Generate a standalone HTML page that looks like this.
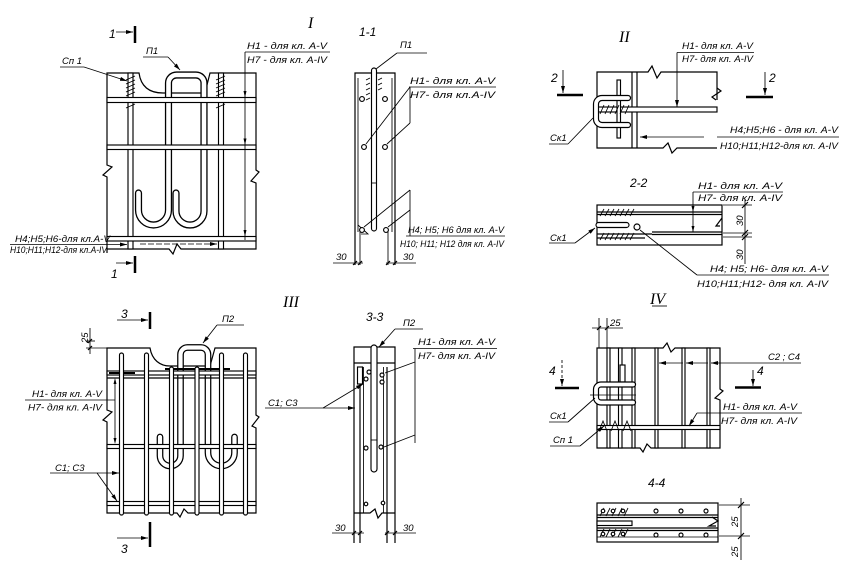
<!DOCTYPE html>
<html><head><meta charset="utf-8"><style>
html,body{margin:0;padding:0;background:#fff}
svg{display:block}
.k{stroke:#000;fill:none;stroke-width:1.2}
.h{stroke:#000;fill:none;stroke-width:.85}
.w{stroke:#000;fill:#fff;stroke-width:1.15}
.f{fill:#000;stroke:none}
text{font-family:"Liberation Sans",sans-serif;font-style:italic;font-size:9.5px;fill:#000}
.r{font-family:"Liberation Serif",serif;font-size:16px}
.s{font-size:12px}
</style></head><body>
<svg width="846" height="566" viewBox="0 0 846 566" xmlns="http://www.w3.org/2000/svg">
<defs>
<marker id="a" markerUnits="userSpaceOnUse" markerWidth="7" markerHeight="4" refX="7" refY="2" orient="auto"><path d="M0,0L7,2L0,4z"/></marker>
<path id="hp1" d="M138.5,193 V210 A15,15 0 0 0 168.5,210 V83 A8,8 0 0 1 176.5,75 H196 A8,8 0 0 1 204,83 V211 A14,14 0 0 1 176,211 V193"/>
<path id="hp2" d="M160,437 V455.75 A10.25,10.25 0 0 0 180.5,455.75 V354.5 A7,7 0 0 1 187.5,347.5 H201 A7,7 0 0 1 208,354.5 V452.75 A13.25,13.25 0 0 0 234.5,452.75 V437"/>
<path id="ck2" d="M628,98 H602 A6,6 0 0 0 596,104 V119 A6,6 0 0 0 602,125 H628"/>
<path id="ck4" d="M633,384.5 H601 A5,5 0 0 0 596,389.5 V397.5 A5,5 0 0 0 601,402.5 H633"/>
</defs>

<!-- ================= PANEL I ================= -->
<text class="r" x="308" y="28">I</text>
<text class="s" x="109" y="38">1</text>
<line class="h" x1="116" y1="32" x2="133" y2="32" marker-end="url(#a)"/>
<line x1="135" y1="26" x2="135" y2="43" stroke="#000" stroke-width="2.5"/>
<line class="h" x1="116" y1="263" x2="133" y2="263" marker-end="url(#a)"/>
<line x1="135" y1="256" x2="135" y2="273" stroke="#000" stroke-width="2.5"/>
<text class="s" x="111" y="278">1</text>

<text x="62" y="64">Сп 1</text>
<line class="h" x1="60" y1="67" x2="84" y2="67"/>
<line class="h" x1="84" y1="67" x2="127" y2="81" marker-end="url(#a)"/>
<text x="146" y="54">П1</text>
<line class="h" x1="143" y1="57" x2="168" y2="57"/>
<line class="h" x1="168" y1="57" x2="180" y2="70" marker-end="url(#a)"/>

<path class="k" d="M107,253 V177 L103,175 L112,167 L107,165 V73 H139 C141,87 150,93 163,93 H205 L210,73 H256 V170 L259,172 L251,181 L256,183 V249 H181 L177,244 L173,254 L169,249 H107"/>
<rect class="w" x="128" y="73" width="5" height="176"/>
<rect class="w" x="218.5" y="73" width="5" height="176"/>
<path class="h" d="M126,80 L135,76 M126,84 L135,80 M126,88 L135,84 M126,92 L135,88 M126,96 L135,92 M126,108 L135,104 M216,80 L225,76 M216,84 L225,80 M216,88 L225,84 M216,92 L225,88 M216,96 L225,92 M216,108 L225,104"/>
<use href="#hp1" stroke="#000" stroke-width="7.2" fill="none" stroke-linecap="round"/>
<use href="#hp1" stroke="#fff" stroke-width="4.6" fill="none" stroke-linecap="round"/>
<rect class="w" x="107" y="97.5" width="149" height="5"/>
<rect class="w" x="107" y="145" width="149" height="4.5"/>
<rect class="w" x="107" y="236.5" width="149" height="4.5"/>
<line class="h" x1="245" y1="52" x2="245" y2="240"/>
<path class="f" d="M243.5,91 L245,97.5 L246.5,91z M243.5,138.5 L245,145 L246.5,138.5z M243.5,230 L245,236.5 L246.5,230z"/>
<line class="h" x1="245" y1="52" x2="330" y2="52"/>
<text x="247" y="49" textLength="80" lengthAdjust="spacingAndGlyphs">Н1 - для кл. А-V</text>
<text x="247" y="63" textLength="80" lengthAdjust="spacingAndGlyphs">Н7 - для кл. А-IV</text>
<text x="15" y="242" textLength="95" lengthAdjust="spacingAndGlyphs">Н4;Н5;Н6-для кл.А-V</text>
<text x="10" y="253" textLength="97" lengthAdjust="spacingAndGlyphs">Н10;Н11;Н12-для кл.А-IV</text>
<line class="h" x1="10" y1="244.5" x2="127" y2="244.5" marker-end="url(#a)"/>
<line class="h" x1="140" y1="244" x2="217" y2="244" marker-end="url(#a)" stroke-dasharray="6,2"/>

<!-- ================= SECTION 1-1 ================= -->
<text class="s" x="359" y="36">1-1</text>
<text x="400" y="48">П1</text>
<line class="h" x1="397" y1="53" x2="427" y2="53"/>
<line class="h" x1="397" y1="53" x2="376" y2="69"/>
<path class="k" d="M355,265 V73 H395 V265"/>
<line class="h" x1="358" y1="78" x2="358" y2="232"/>
<line class="h" x1="392" y1="78" x2="392" y2="232"/>
<line class="h" x1="360" y1="230" x2="360" y2="265"/>
<line class="h" x1="388" y1="230" x2="388" y2="265"/>
<path class="h" d="M358,225 L368,234 L361,234"/>
<rect class="w" x="371.5" y="68" width="5" height="163" rx="2.5"/>
<line class="h" x1="371.5" y1="183" x2="376.5" y2="183"/>
<path class="h" d="M366,80 L370,78 M366,85 L370,83 M366,90 L370,88 M366,95 L370,93 M366,100 L370,98 M378,80 L382,78 M378,85 L382,83 M378,90 L382,88"/>
<circle class="w" cx="362" cy="99" r="2.4"/>
<circle class="w" cx="385" cy="99" r="2.4"/>
<circle class="w" cx="364" cy="147" r="2.4"/>
<circle class="w" cx="385" cy="147" r="2.4"/>
<circle class="w" cx="362" cy="230" r="2.4"/>
<circle class="w" cx="386" cy="230" r="2.4"/>
<text x="410" y="84" textLength="85" lengthAdjust="spacingAndGlyphs">Н1- для кл. А-V</text>
<line class="h" x1="409" y1="87" x2="496" y2="87"/>
<text x="410" y="98" textLength="85" lengthAdjust="spacingAndGlyphs">Н7- для кл.А-IV</text>
<line class="h" x1="410" y1="87" x2="410" y2="123"/>
<line class="h" x1="410" y1="87" x2="366" y2="144"/>
<line class="h" x1="410" y1="123" x2="387" y2="144"/>
<line class="h" x1="410" y1="190" x2="410" y2="236"/>
<line class="h" x1="410" y1="190" x2="364" y2="227"/>
<line class="h" x1="410" y1="210" x2="388" y2="227"/>
<text x="408" y="233" textLength="96" lengthAdjust="spacingAndGlyphs">Н4; Н5; Н6 для кл. А-V</text>
<line class="h" x1="406" y1="236" x2="505" y2="236"/>
<text x="400" y="247" textLength="104" lengthAdjust="spacingAndGlyphs">Н10; Н11; Н12 для кл. А-IV</text>
<text x="336" y="260">30</text>
<line class="h" x1="333" y1="263" x2="363" y2="263"/>
<path class="k" d="M353,265 L357,261 M358,265 L362,261 M386,265 L390,261 M393,265 L397,261"/>
<text x="403" y="260">30</text>
<line class="h" x1="386" y1="263" x2="416" y2="263"/>

<!-- ================= PANEL II ================= -->
<text class="r" x="619" y="42">II</text>
<text class="s" x="551" y="82">2</text>
<line class="h" x1="563" y1="70" x2="563" y2="93" marker-end="url(#a)"/>
<line x1="557" y1="95" x2="583" y2="95" stroke="#000" stroke-width="2.5"/>
<text class="s" x="769" y="82">2</text>
<line class="h" x1="765" y1="72" x2="765" y2="95" marker-end="url(#a)"/>
<line x1="746" y1="97" x2="773" y2="97" stroke="#000" stroke-width="2.5"/>
<text x="682" y="49" textLength="71" lengthAdjust="spacingAndGlyphs">Н1- для кл. А-V</text>
<line class="h" x1="677" y1="52.5" x2="754" y2="52.5"/>
<text x="682" y="62" textLength="71" lengthAdjust="spacingAndGlyphs">Н7- для кл. А-IV</text>
<line class="h" x1="677" y1="52.5" x2="677" y2="107" marker-end="url(#a)"/>
<path class="k" d="M717,100 V72 H661 L657,78 L652,66 L648,72 H597 V148 H663 L668,143 L672,153 L677,148 H717"/>
<path class="k" d="M717,88 L721,91 L712,97 L716,100"/>
<line class="k" x1="632" y1="72" x2="632" y2="148"/>
<line class="k" x1="637" y1="72" x2="637" y2="148"/>
<rect class="w" x="597" y="107" width="120" height="5"/>
<rect class="w" x="617" y="80" width="3.5" height="58"/>
<use href="#ck2" stroke="#000" stroke-width="6.2" fill="none" stroke-linecap="round"/>
<use href="#ck2" stroke="#fff" stroke-width="3.8" fill="none" stroke-linecap="round"/>
<path class="h" d="M600,114 L604,105 M605,114 L609,105 M610,114 L614,105 M615,114 L619,105 M620,114 L624,105 M625,114 L629,105"/>
<text x="550" y="141">Ск1</text>
<line class="h" x1="549" y1="144" x2="568" y2="144"/>
<line class="h" x1="568" y1="144" x2="593" y2="118"/>
<line class="h" x1="704" y1="137" x2="640" y2="137" marker-end="url(#a)"/>
<line class="h" x1="717" y1="137" x2="839" y2="137"/>
<text x="730" y="133" textLength="108" lengthAdjust="spacingAndGlyphs">Н4;Н5;Н6 - для кл. А-V</text>
<text x="720" y="149" textLength="118" lengthAdjust="spacingAndGlyphs">Н10;Н11;Н12-для кл. А-IV</text>

<!-- ================= SECTION 2-2 ================= -->
<text class="s" x="630" y="187">2-2</text>
<text x="698" y="189" textLength="84" lengthAdjust="spacingAndGlyphs">Н1- для кл. А-V</text>
<line class="h" x1="693" y1="192" x2="783" y2="192"/>
<text x="698" y="201" textLength="84" lengthAdjust="spacingAndGlyphs">Н7- для кл. А-IV</text>
<line class="h" x1="693" y1="192" x2="693" y2="232"/>
<path class="f" d="M691.5,206 L693,212 L694.5,206z M691.5,226 L693,232 L694.5,226z"/>
<rect class="k" x="597" y="205" width="125" height="40"/>
<line class="k" x1="597" y1="212" x2="722" y2="212"/>
<line class="k" x1="597" y1="214.5" x2="722" y2="214.5"/>
<line class="k" x1="652" y1="232" x2="722" y2="232"/>
<line class="k" x1="652" y1="234.5" x2="722" y2="234.5"/>
<line class="k" x1="597" y1="234" x2="652" y2="234"/>
<line class="k" x1="597" y1="238" x2="645" y2="238"/>
<path class="k" d="M722,218 L716,226 L720,226"/>
<path class="h" d="M600,216 L604,209 M605,216 L609,209 M610,216 L614,209 M615,216 L619,209 M620,216 L624,209 M625,216 L629,209 M630,216 L634,209 M600,240 L604,233 M605,240 L609,233 M610,240 L614,233 M615,240 L619,233 M620,240 L624,233 M625,240 L629,233 M630,240 L634,233"/>
<rect class="w" x="596" y="222.5" width="33" height="5" rx="2.5"/>
<circle class="w" cx="637" cy="227" r="3"/>
<text x="550" y="241">Ск1</text>
<line class="h" x1="549" y1="243" x2="575" y2="243"/>
<line class="h" x1="575" y1="243" x2="595" y2="228" marker-end="url(#a)"/>
<line class="h" x1="697" y1="275" x2="640" y2="230"/>
<line class="h" x1="697" y1="275" x2="829" y2="275"/>
<text x="710" y="272" textLength="118" lengthAdjust="spacingAndGlyphs">Н4; Н5; Н6- для кл. А-V</text>
<text x="697" y="287" textLength="131" lengthAdjust="spacingAndGlyphs">Н10;Н11;Н12- для кл. А-IV</text>
<line class="h" x1="723" y1="205" x2="752" y2="205"/>
<line class="h" x1="723" y1="233" x2="752" y2="233"/>
<line class="h" x1="723" y1="237" x2="752" y2="237"/>
<line class="h" x1="745" y1="199" x2="745" y2="264"/>
<path class="k" d="M742,208 L748,202 M742,236 L748,230 M742,240 L748,234"/>
<text transform="translate(743,226) rotate(-90)">30</text>
<text transform="translate(743,260) rotate(-90)">30</text>

<!-- ================= PANEL III ================= -->
<text class="r" x="283" y="307">III</text>
<text class="s" x="121" y="318">3</text>
<line class="h" x1="117" y1="320" x2="148" y2="320" marker-end="url(#a)"/>
<line x1="150" y1="312" x2="150" y2="329" stroke="#000" stroke-width="2.5"/>
<text x="222" y="322">П2</text>
<line class="h" x1="217" y1="325" x2="244" y2="325"/>
<line class="h" x1="217" y1="325" x2="203" y2="343" marker-end="url(#a)"/>
<text transform="translate(88,343) rotate(-90)">25</text>
<line class="h" x1="90" y1="328" x2="90" y2="354"/>
<line class="h" x1="86" y1="348" x2="107" y2="348"/>
<line class="h" x1="86" y1="341" x2="95" y2="341"/>
<path class="k" d="M88,350 L92,346 M88,343 L92,339"/>
<path class="k" d="M107,513 V422 L103,420 L112,412 L107,410 V348 H150 C152,360 160,366 170,366 H210 L215,348 H256 V415 L259,417 L252,426 L256,428 V513 H188 L184,509 L180,517 L177,513 Z"/>
<use href="#hp2" stroke="#000" stroke-width="6.7" fill="none" stroke-linecap="round"/>
<use href="#hp2" stroke="#fff" stroke-width="4.2" fill="none" stroke-linecap="round"/>
<rect class="w" x="107" y="371" width="149" height="4"/>
<line class="k" x1="107" y1="378" x2="256" y2="378"/>
<line x1="165" y1="369" x2="230" y2="369" stroke="#000" stroke-width="2"/>
<line x1="109" y1="373" x2="135" y2="373" stroke="#000" stroke-width="2"/>
<rect class="w" x="107" y="444.5" width="149" height="4"/>
<rect class="w" x="107" y="501.5" width="149" height="4"/>
<rect class="w" x="119.5" y="353" width="4" height="162" rx="2"/>
<rect class="w" x="144.5" y="353" width="4" height="162" rx="2"/>
<rect class="w" x="169.5" y="367" width="4" height="148" rx="2"/>
<rect class="w" x="195" y="367" width="4" height="148" rx="2"/>
<rect class="w" x="219.5" y="353" width="4" height="162" rx="2"/>
<rect class="w" x="243.5" y="353" width="4" height="162" rx="2"/>
<line class="h" x1="115" y1="384" x2="115" y2="438"/>
<path class="f" d="M113.5,384 L115,378 L116.5,384z M113.5,438 L115,444 L116.5,438z"/>
<text x="32" y="397" textLength="70" lengthAdjust="spacingAndGlyphs">Н1- для кл. А-V</text>
<line class="h" x1="25" y1="400" x2="115" y2="400"/>
<text x="28" y="410.5" textLength="74" lengthAdjust="spacingAndGlyphs">Н7- для кл. А-IV</text>
<text x="55" y="471">С1; С3</text>
<line class="h" x1="50" y1="473" x2="119" y2="473" marker-end="url(#a)"/>
<line class="h" x1="97" y1="473" x2="117" y2="501" marker-end="url(#a)"/>
<line class="h" x1="117" y1="538" x2="148" y2="538" marker-end="url(#a)"/>
<line x1="150" y1="522" x2="150" y2="547" stroke="#000" stroke-width="2.5"/>
<text class="s" x="121" y="553">3</text>

<!-- ================= SECTION 3-3 ================= -->
<text class="s" x="366" y="321">3-3</text>
<text x="403" y="326">П2</text>
<line class="h" x1="395" y1="329" x2="423" y2="329"/>
<line class="h" x1="395" y1="329" x2="379" y2="347" marker-end="url(#a)"/>
<path class="k" d="M354,543 V347 H395 V543"/>
<line class="k" x1="354" y1="363" x2="395" y2="363"/>
<line class="k" x1="360" y1="367" x2="360" y2="543"/>
<line class="h" x1="363.5" y1="367" x2="363.5" y2="513"/>
<line class="h" x1="383.5" y1="367" x2="383.5" y2="513"/>
<line class="k" x1="387" y1="367" x2="387" y2="543"/>
<path class="k" d="M354,513 H370 L375,509 L378,518 L382,513 H395"/>
<rect class="w" x="371" y="345" width="6" height="127" rx="3"/>
<line class="h" x1="371" y1="440" x2="377" y2="440"/>
<rect class="w" x="357.5" y="367" width="5" height="17"/>
<circle class="w" cx="369" cy="372" r="2"/>
<circle class="w" cx="366" cy="379" r="2"/>
<circle class="w" cx="382" cy="375" r="2"/>
<circle class="w" cx="382" cy="382" r="2"/>
<circle class="w" cx="366" cy="448" r="2"/>
<circle class="w" cx="381" cy="447" r="2"/>
<circle class="w" cx="366" cy="504" r="1.8"/>
<circle class="w" cx="383" cy="503" r="1.8"/>
<text x="418" y="345" textLength="77" lengthAdjust="spacingAndGlyphs">Н1- для кл. А-V</text>
<line class="h" x1="413" y1="348.5" x2="497" y2="348.5"/>
<text x="418" y="359" textLength="77" lengthAdjust="spacingAndGlyphs">Н7- для кл. А-IV</text>
<line class="h" x1="415" y1="348.5" x2="415" y2="443"/>
<line class="h" x1="415" y1="362" x2="385" y2="373"/>
<line class="h" x1="415" y1="435" x2="384" y2="447"/>
<text x="268" y="406">С1; С3</text>
<line class="h" x1="265" y1="408" x2="355" y2="408" marker-end="url(#a)"/>
<line class="h" x1="323" y1="408" x2="363" y2="384" marker-end="url(#a)"/>
<text x="335" y="531">30</text>
<line class="h" x1="332" y1="533" x2="364" y2="533"/>
<text x="403" y="531">30</text>
<line class="h" x1="385" y1="533" x2="416" y2="533"/>
<path class="k" d="M352,535 L356,531 M358,535 L362,531 M385,535 L389,531 M393,535 L397,531"/>

<!-- ================= PANEL IV ================= -->
<text class="r" x="650" y="304">IV</text>
<line class="h" x1="652" y1="306" x2="667" y2="306"/>
<text x="610" y="326">25</text>
<line class="h" x1="592" y1="328" x2="623" y2="328"/>
<line class="h" x1="599" y1="318" x2="599" y2="348"/>
<line class="h" x1="607" y1="318" x2="607" y2="348"/>
<path class="k" d="M597,330 L601,326 M605,330 L609,326"/>
<path class="k" d="M597,448 V348 H663 L667,343 L671,352 L675,348 H720 V389 L723,391 L715,398 L720,400 V448 H651 L647,444 L643,452 L640,448 Z"/>
<rect class="w" x="607" y="348" width="3" height="100"/>
<rect class="w" x="618.5" y="348" width="3.5" height="100"/>
<rect class="w" x="632" y="348" width="3" height="100"/>
<rect class="w" x="655" y="348" width="3" height="100"/>
<rect class="w" x="682" y="348" width="3" height="100"/>
<rect class="w" x="707" y="348" width="3" height="100"/>
<rect class="w" x="597" y="425.5" width="123" height="4"/>
<rect class="w" x="620" y="365" width="5" height="17"/>
<use href="#ck4" stroke="#000" stroke-width="6.2" fill="none" stroke-linecap="round"/>
<use href="#ck4" stroke="#fff" stroke-width="3.8" fill="none" stroke-linecap="round"/>
<line class="h" x1="590" y1="395" x2="636" y2="395"/>
<path class="h" d="M599,431 L603,421 L607,431 M611,431 L615,421 L619,431 M623,431 L627,421 L631,431"/>
<text class="s" x="549" y="375">4</text>
<line class="h" x1="562" y1="360" x2="562" y2="386" marker-end="url(#a)" stroke-dasharray="3,2"/>
<line x1="555" y1="388" x2="579" y2="388" stroke="#000" stroke-width="2.5"/>
<text class="s" x="757" y="375">4</text>
<line class="h" x1="753" y1="370" x2="753" y2="386" marker-end="url(#a)"/>
<line x1="735" y1="387.5" x2="761" y2="387.5" stroke="#000" stroke-width="2.5"/>
<text x="768" y="360" textLength="32" lengthAdjust="spacingAndGlyphs">С2 ; С4</text>
<line class="h" x1="718" y1="363" x2="801" y2="363"/>
<line class="h" x1="718" y1="363" x2="711" y2="363" marker-end="url(#a)"/>
<line class="h" x1="708" y1="363" x2="686" y2="363" marker-end="url(#a)"/>
<line class="h" x1="683" y1="363" x2="659" y2="363" marker-end="url(#a)"/>
<text x="723" y="410" textLength="74" lengthAdjust="spacingAndGlyphs">Н1- для кл. А-V</text>
<line class="h" x1="697" y1="413" x2="802" y2="413"/>
<text x="721" y="424" textLength="76" lengthAdjust="spacingAndGlyphs">Н7- для кл. А-IV</text>
<line class="h" x1="697" y1="413" x2="689" y2="426" marker-end="url(#a)"/>
<text x="550" y="419">Ск1</text>
<line class="h" x1="549" y1="422" x2="568" y2="422"/>
<line class="h" x1="568" y1="422" x2="595" y2="398"/>
<text x="553" y="443">Сп 1</text>
<line class="h" x1="550" y1="446" x2="580" y2="446"/>
<line class="h" x1="580" y1="446" x2="604" y2="426" marker-end="url(#a)"/>

<!-- ================= SECTION 4-4 ================= -->
<text class="s" x="648" y="487">4-4</text>
<rect class="k" x="597" y="503" width="121" height="39"/>
<line class="k" x1="597" y1="515" x2="718" y2="515"/>
<line class="k" x1="597" y1="517.5" x2="718" y2="517.5"/>
<line class="k" x1="597" y1="528" x2="718" y2="528"/>
<line class="k" x1="597" y1="530.5" x2="718" y2="530.5"/>
<line class="h" x1="597" y1="537" x2="718" y2="537"/>
<rect class="w" x="597" y="521" width="35" height="4.5"/>
<path class="k" d="M712,517 L718,521 L709,526 L716,526"/>
<path class="h" d="M600,516 L604,508 M606,516 L610,508 M612,516 L616,508 M618,516 L622,508 M624,516 L628,508 M600,537 L604,529 M606,537 L610,529 M612,537 L616,529 M618,537 L622,529 M624,537 L628,529"/>
<circle class="w" cx="603" cy="511" r="1.8"/>
<circle class="w" cx="613" cy="511" r="1.8"/>
<circle class="w" cx="623" cy="511" r="1.8"/>
<circle class="w" cx="603" cy="534" r="1.8"/>
<circle class="w" cx="613" cy="534" r="1.8"/>
<circle class="w" cx="623" cy="534" r="1.8"/>
<circle class="w" cx="656" cy="511" r="2"/>
<circle class="w" cx="681" cy="511" r="2"/>
<circle class="w" cx="706" cy="511" r="2"/>
<circle class="w" cx="656" cy="535" r="2"/>
<circle class="w" cx="681" cy="535" r="2"/>
<circle class="w" cx="706" cy="535" r="2"/>
<line class="h" x1="719" y1="505" x2="750" y2="505"/>
<line class="h" x1="719" y1="536" x2="750" y2="536"/>
<line class="h" x1="741" y1="498" x2="741" y2="560"/>
<path class="k" d="M738,508 L744,502 M738,539 L744,533"/>
<text transform="translate(738,527) rotate(-90)">25</text>
<text transform="translate(738,557) rotate(-90)">25</text>
</svg>
</body></html>
